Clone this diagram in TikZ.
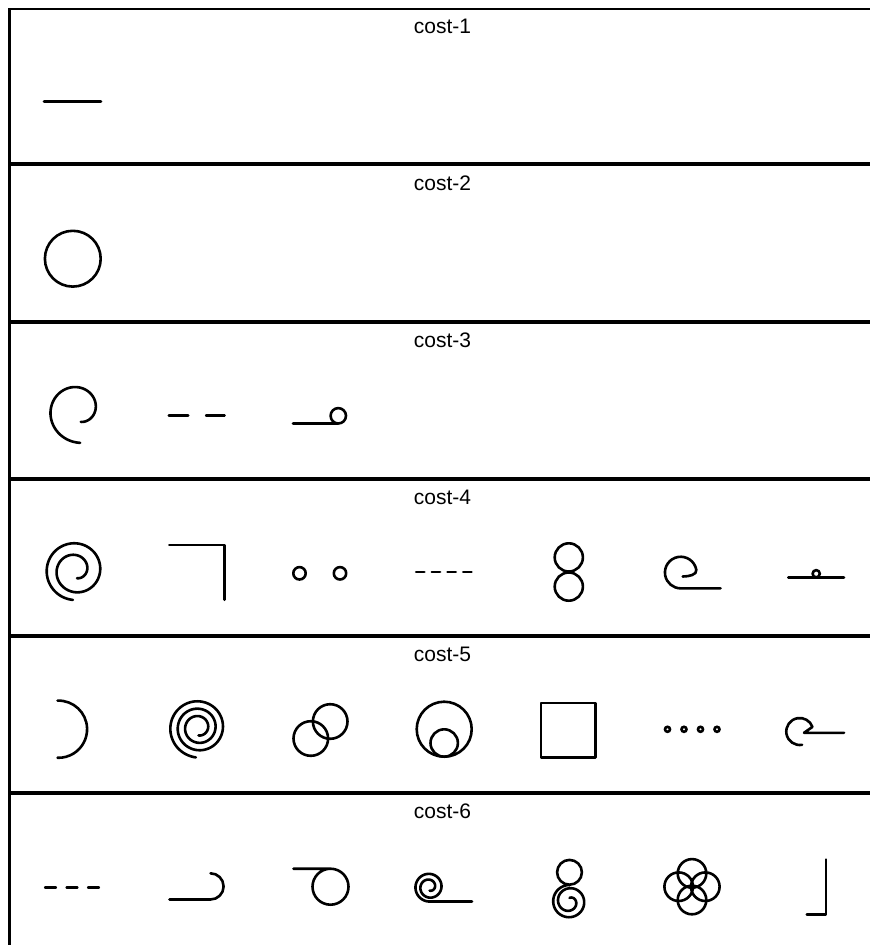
\documentclass[tikz,border=0pt]{standalone}
\usepackage{fontspec}
\setmainfont{Liberation Sans}
\begin{document}
\begin{tikzpicture}[x=1pt,y=-1pt,
  glyph/.style={line width=2.6pt, line cap=round, line join=round},
  frame/.style={line width=2.6pt},
  sepline/.style={line width=4pt},
  lbl/.style={font=\fontsize{21}{25}\selectfont, anchor=base, inner sep=0pt}]
\useasboundingbox (0,0) rectangle (870,945);
\fill[white] (0,0) rectangle (870,945);
% frame and separators
\draw[frame] (9.5,945) -- (9.5,9) -- (872,9);
\foreach \yy in {164.3,321.7,479,635.7,792.7} \draw[sepline] (9.5,\yy) -- (872,\yy);
% labels
\node[lbl] (c1) at (442.5,33.3) {cost-1};
\node[lbl] (c2) at (442.5,190.1) {cost-2};
\node[lbl] (c3) at (442.5,347.5) {cost-3};
\node[lbl] (c4) at (442.5,504.8) {cost-4};
\node[lbl] (c5) at (442.5,661.5) {cost-5};
\node[lbl] (c6) at (442.5,818.5) {cost-6};
% ---- cost-1
\draw[glyph] (44,101.7) -- (101,101.7);
% ---- cost-2
\draw[glyph] (72.8,258.7) circle[radius=27.9];
% ---- cost-3
\draw[glyph] plot[variable=\t, domain=87:439, samples=120]
  ({78.4+(33-0.0589*(\t-90))*cos(\t)}, {409.7+(33-0.0589*(\t-90))*sin(\t)});
\draw[glyph] (168.8,415.7) -- (188.2,415.7);
\draw[glyph] (206.1,415.7) -- (224.6,415.7);
\draw[glyph] (293,423.5) -- (338.3,423.5) arc[start angle=90, end angle=-270, radius=7.7];
% ---- cost-4
\draw[glyph] plot[variable=\t, domain=0:1, samples=200]
  ({75.5+(29.7-21.7*\t*sqrt(\t))*cos(95+705*\t)}, {570.3+(29.7-21.7*\t*sqrt(\t))*sin(95+705*\t)});
\draw[glyph] (169.3,545) -- (224.3,545) -- (224.3,599.7);
\draw[glyph] (299.5,573.3) circle[radius=6.2];
\draw[glyph] (340,573.3) circle[radius=6.2];
\draw[glyph] (416.1,572) -- (424.4,572);
\draw[glyph] (431.8,572) -- (440.1,572);
\draw[glyph] (447.5,572) -- (455.8,572);
\draw[glyph] (463.2,572) -- (471.5,572);
\draw[glyph] (568.8,557.4) circle[radius=14.1];
\draw[glyph] (568.8,586.6) circle[radius=14.1];
\draw[glyph] (682.7,576.5) .. controls (689,576.5) and (697.2,574.7) .. (696.3,569.8)
  arc[start angle=-10, end angle=-270, radius=15.8] -- (720.5,588.3);
\draw[glyph] (788.3,577.3) -- (844,577.3);
\draw[glyph] (816.2,573.7) circle[radius=3.6];
% ---- cost-5
\draw[glyph] (58.5,729.2) ++(-92:28.6) arc[start angle=-92, end angle=92, radius=28.6];
\draw[glyph] plot[variable=\t, domain=95:1170, samples=260]
  ({198.5+(30-0.020556*(\t-90))*cos(\t)}, {727.6+(30-0.020556*(\t-90))*sin(\t)});
\draw[glyph] (330.2,721.5) circle[radius=17.3];
\draw[glyph] (310.8,738.5) circle[radius=17.3];
\draw[glyph] (444.2,729.2) circle[radius=27.5];
\draw[glyph] (444.2,743) circle[radius=13.7];
\draw[glyph] (541.1,702.8) rectangle (595.6,757.2);
\foreach \xx in {667.5,684,700.5,717} \draw[line width=2.6pt] (\xx,729.3) circle[radius=2.5];
\draw[glyph] (802.1,744.8) arc[start angle=80, end angle=340, radius=13.5] -- (804,732.8) -- (844,732.8);
% ---- cost-6
\draw[glyph] (45.1,887.3) -- (55.9,887.3);
\draw[glyph] (66.6,887.3) -- (77.4,887.3);
\draw[glyph] (88.1,887.3) -- (98.9,887.3);
\draw[glyph] (169.4,899.5) -- (210.5,899.5) arc[start angle=90, end angle=-90, radius=13.1];
\draw[glyph] (293.4,868.7) -- (330.5,868.7) arc[start angle=-90, end angle=270, radius=18];
\draw[glyph] (472,901.5) -- plot[variable=\t, domain=0:1, samples=200]
  ({429.5+(14.5-11*\t*sqrt(\t))*cos(90+720*\t)}, {887+(14.5-11*\t*sqrt(\t))*sin(90+720*\t)});
\draw[glyph] (569.5,872.3) circle[radius=12.4];
\draw[glyph] plot[variable=\t, domain=0:1, samples=200]
  ({569.5+(16.5-13*\t*\t)*cos(270-720*\t)}, {901.5+(16.5-13*\t*\t)*sin(270-720*\t)});
\draw[glyph] (692,873.4) circle[radius=14.3];
\draw[glyph] (692,900) circle[radius=14.3];
\draw[glyph] (678.7,886.7) circle[radius=14.3];
\draw[glyph] (705.3,886.7) circle[radius=14.3];
\draw[glyph] (806.8,914.3) -- (826,914.3) -- (826,859.5);
\end{tikzpicture}
\end{document}
